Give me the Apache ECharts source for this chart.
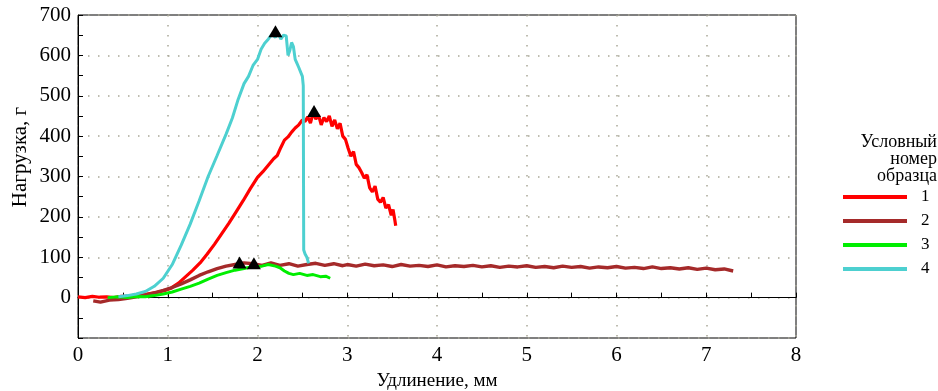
<!DOCTYPE html>
<html><head><meta charset="utf-8">
<script src="https://cdn.jsdelivr.net/npm/echarts@6/dist/echarts.min.js"></script>
<style>html,body{margin:0;padding:0;background:#fff}#c{width:938px;height:391px}</style>
</head><body><div id="c"></div>
<script>
const seriesNames = ['1','2','3','4'];
const seriesColors = ['#ff0000','#a52a2a','#00ee00','#4dd0d0'];
const xTicks = [0,1,2,3,4,5,6,7,8];
const yTicks = [0,100,200,300,400,500,600,700];

const red_x = [0,0.08,0.16,0.24,0.32,0.4,0.48,0.56,0.64,0.72,0.8,0.88,0.96,1.04,1.12,1.2,1.28,1.36,1.44,1.52,1.6,1.68,1.76,1.84,1.92,2.0,2.06,2.12,2.18,2.22,2.26,2.3,2.34,2.38,2.42,2.46,2.5,2.53,2.56,2.59,2.62,2.65,2.68,2.71,2.74,2.77,2.8,2.83,2.86,2.89,2.92,2.95,2.98,3.01,3.04,3.07,3.1,3.13,3.16,3.19,3.22,3.25,3.28,3.31,3.34,3.37,3.4,3.43,3.46,3.49,3.51,3.53,3.54];
const red_y = [2,0,3,1,2,0,3,4,6,7,10,13,17,24,36,52,68,86,108,132,158,184,212,240,270,298,312,328,344,352,372,390,398,410,420,428,440,436,448,432,458,442,452,428,446,436,450,424,440,418,432,400,392,370,350,362,330,322,310,296,304,272,262,276,244,236,248,222,230,204,218,192,178];

const brown_x = [0.17,0.25,0.35,0.45,0.55,0.65,0.75,0.85,0.95,1.05,1.15,1.25,1.35,1.45,1.55,1.65,1.75,1.85,1.95,2.05,2.15,2.25,2.35,2.45,2.55,2.65,2.75,2.85,2.95,3.0,3.1,3.2,3.3,3.4,3.5,3.6,3.7,3.8,3.9,4.0,4.1,4.2,4.3,4.4,4.5,4.6,4.7,4.8,4.9,5.0,5.1,5.2,5.3,5.4,5.5,5.6,5.7,5.8,5.9,6.0,6.1,6.2,6.3,6.4,6.5,6.6,6.7,6.8,6.9,7.0,7.1,7.2,7.3];
const brown_y = [-8,-11,-6,-5,-2,2,6,12,18,25,34,44,55,64,72,78,82,86,84,80,86,80,84,78,82,85,80,84,79,82,78,83,79,81,77,82,78,80,77,81,76,79,77,80,76,79,75,78,76,79,75,77,74,78,75,77,73,76,74,77,73,75,72,76,72,74,71,74,70,73,69,71,66];

const green_x = [0.33,0.45,0.55,0.65,0.75,0.85,0.95,1.05,1.15,1.25,1.35,1.45,1.55,1.65,1.75,1.85,1.95,2.05,2.12,2.2,2.25,2.3,2.35,2.4,2.47,2.55,2.62,2.7,2.76,2.81];
const green_y = [0,2,0,3,2,5,9,14,21,28,36,46,55,62,68,72,77,78,82,78,74,66,60,57,60,55,57,52,53,48];

const cyan_x = [0.45,0.55,0.65,0.75,0.85,0.95,1.05,1.15,1.25,1.35,1.45,1.55,1.65,1.72,1.78,1.85,1.9,1.95,2.0,2.04,2.08,2.12,2.16,2.2,2.23,2.26,2.29,2.32,2.34,2.36,2.38,2.4,2.42,2.44,2.46,2.48,2.5,2.51,2.515,2.53,2.55,2.57];
const cyan_y = [2,5,9,15,28,48,82,130,182,240,300,352,405,445,488,530,548,575,590,615,630,640,652,645,655,640,650,648,600,612,632,622,590,580,570,566,548,525,118,108,100,85];

const peak_x = [2.63,1.80,1.96,2.20];
const peak_y = [462,87,85,660];

const zip = (xs, ys) => xs.map((x, i) => [x, ys[i]]);
const curves = [zip(red_x, red_y), zip(brown_x, brown_y), zip(green_x, green_y), zip(cyan_x, cyan_y)];
const widths = [3.2, 3.4, 3, 3];

const FONT = 'Liberation Serif';
const chart = echarts.init(document.getElementById('c'), null, {renderer: 'canvas'});
const dotted = {show: true, lineStyle: {color: '#a9a898', width: 1.5, type: [1.5, 8.5]}};

const series = curves.map((d, i) => ({
  name: seriesNames[i], type: 'line', data: d, symbol: 'none', showSymbol: false,
  lineStyle: {color: seriesColors[i], width: widths[i]}, itemStyle: {color: seriesColors[i]},
  animation: false, z: i === 3 ? 3 : 2
}));
series.push({
  name: 'peaks', type: 'scatter', data: zip(peak_x, peak_y), symbol: 'triangle',
  symbolSize: [14, 12], itemStyle: {color: '#000', opacity: 1}, z: 5, animation: false
});

chart.setOption({
  animation: false,
  backgroundColor: '#fff',
  grid: {left: 78, right: 142, top: 15, bottom: 53, show: true, borderColor: '#000', borderWidth: 1,
    containLabel: false, outerBoundsMode: 'none'},
  xAxis: {
    type: 'value', min: 0, max: 8, interval: 1,
    name: 'Удлинение, мм', nameLocation: 'middle', nameGap: 34,
    nameTextStyle: {fontFamily: FONT, fontSize: 19, color: '#000'},
    axisLine: {lineStyle: {color: '#000', width: 1}},
    axisTick: {inside: true, length: 5, lineStyle: {color: '#000'}},
    minorTick: {show: true, splitNumber: 2, length: 5, lineStyle: {color: '#000'}},
    axisLabel: {fontFamily: FONT, fontSize: 21, color: '#000', margin: 7,
      formatter: v => xTicks.includes(v) ? String(v) : ''},
    splitLine: dotted
  },
  yAxis: {
    type: 'value', min: -100, max: 700, interval: 100,
    axisLine: {show: true, lineStyle: {color: '#000', width: 1}},
    axisTick: {show: true, inside: true, length: 5, lineStyle: {color: '#000'}},
    minorTick: {show: true, splitNumber: 2, length: 5, lineStyle: {color: '#000'}},
    axisLabel: {fontFamily: FONT, fontSize: 21, color: '#000', margin: 7,
      formatter: v => yTicks.includes(v) ? String(v) : ''},
    splitLine: dotted
  },
  legend: {
    data: seriesNames, orient: 'vertical', left: 843, top: 188, padding: 0,
    itemWidth: 64, itemHeight: 4, itemGap: 6, icon: 'rect',
    textStyle: {fontFamily: FONT, fontSize: 17, lineHeight: 18, color: '#000', padding: [0, 0, 0, 9]},
    selectedMode: false
  },
  graphic: [
    {type: 'text', x: 20, y: 157, rotation: Math.PI / 2,
      style: {text: 'Нагрузка, г', font: '21px "Liberation Serif"', fill: '#000', textAlign: 'center', textVerticalAlign: 'middle'}},
    {type: 'text', x: 937, y: 142, style: {text: 'Условный', font: '18px "Liberation Serif"', fill: '#000', textAlign: 'right', textVerticalAlign: 'middle'}},
    {type: 'text', x: 937, y: 159, style: {text: 'номер', font: '18px "Liberation Serif"', fill: '#000', textAlign: 'right', textVerticalAlign: 'middle'}},
    {type: 'text', x: 937, y: 176, style: {text: 'образца', font: '18px "Liberation Serif"', fill: '#000', textAlign: 'right', textVerticalAlign: 'middle'}}
  ],
  series: series
});
</script></body></html>
